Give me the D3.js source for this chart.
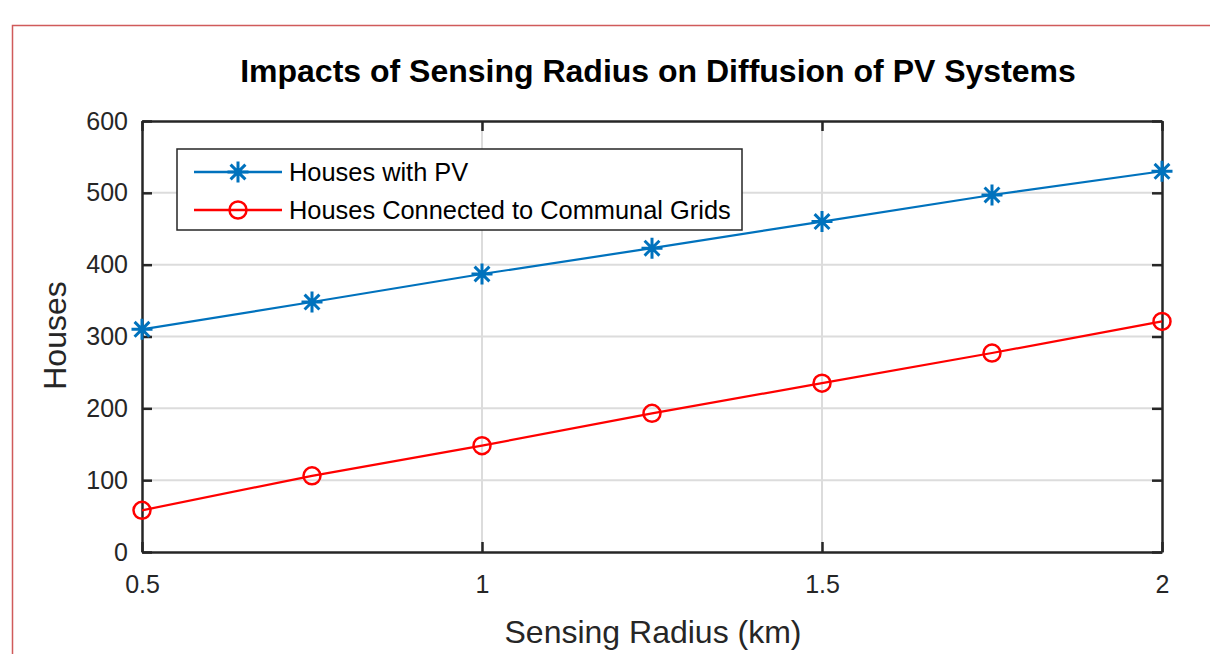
<!DOCTYPE html>
<html lang="en">
<head>
  <meta charset="UTF-8">
  <script src="https://d3js.org/d3.v7.min.js"></script>
  <title>Impacts of Sensing Radius on Diffusion of PV Systems</title>
  <style>
    body { margin: 0; background: #fff; }
    text { font-family: Arial, "Liberation Sans", sans-serif; }
  </style>
</head>
<body>
  <script>
    // data
    var radius = [0.5, 0.75, 1, 1.25, 1.5, 1.75, 2];
    var housesPV = [310, 348, 387, 423, 460, 497, 530];
    var housesGrid = [58, 106, 148, 193, 235, 277, 321];
    var xTicks = [0.5, 1, 1.5, 2];
    var yTicks = [0, 100, 200, 300, 400, 500, 600];

    var W = 1210, H = 654;
    var margin = {top: 121, right: 48, bottom: 102, left: 142},
      width = W - margin.left - margin.right,
      height = H - margin.top - margin.bottom;

    var svg = d3.select('body').append('svg')
      .attr('width', W)
      .attr('height', H);

    // outer red frame (runs off the page on right/bottom)
    svg.append('rect')
      .attr('x', 12.5).attr('y', 25.5)
      .attr('width', W).attr('height', H)
      .attr('fill', 'none')
      .attr('stroke', '#d05a5a')
      .attr('stroke-width', 1.5);

    var g = svg.append('g')
      .attr('transform', 'translate(' + margin.left + ',' + margin.top + ')');

    var x = d3.scaleLinear().domain([0.5, 2]).range([0, width]);
    var y = d3.scaleLinear().domain([0, 600]).range([height, 0]);

    // grid
    g.append('g').selectAll('line')
      .data(yTicks.slice(1, -1))
      .enter().append('line')
      .attr('x1', 0).attr('x2', width)
      .attr('y1', function(d) { return y(d); })
      .attr('y2', function(d) { return y(d); })
      .attr('stroke', '#dcdcdc').attr('stroke-width', 2);
    g.append('g').selectAll('line')
      .data(xTicks.slice(1, -1))
      .enter().append('line')
      .attr('y1', 0).attr('y2', height)
      .attr('x1', function(d) { return x(d); })
      .attr('x2', function(d) { return x(d); })
      .attr('stroke', '#dcdcdc').attr('stroke-width', 2);

    // axes (MATLAB style, ticks pointing in, box on)
    function styleAxis(sel) {
      sel.select('.domain').attr('stroke', '#262626').attr('stroke-width', 2.5);
      sel.selectAll('.tick line').attr('stroke', '#262626').attr('stroke-width', 2.5);
      sel.selectAll('.tick text').attr('fill', '#262626').style('font-size', '25px');
    }
    var fmt = function(d) { return String(d); };

    g.append('g')
      .attr('transform', 'translate(0,' + height + ')')
      .call(d3.axisBottom(x).tickValues(xTicks).tickFormat(fmt).tickSizeInner(-10).tickSizeOuter(0).tickPadding(23))
      .call(styleAxis);
    g.append('g')
      .call(d3.axisTop(x).tickValues(xTicks).tickFormat('').tickSizeInner(-10).tickSizeOuter(0))
      .call(styleAxis);
    g.append('g')
      .call(d3.axisLeft(y).tickValues(yTicks).tickFormat(fmt).tickSizeInner(-10).tickSizeOuter(0).tickPadding(14))
      .call(styleAxis);
    g.append('g')
      .attr('transform', 'translate(' + width + ',0)')
      .call(d3.axisRight(y).tickValues(yTicks).tickFormat('').tickSizeInner(-10).tickSizeOuter(0))
      .call(styleAxis);

    // series
    var series = [
      {name: 'Houses with PV', values: housesPV, color: '#0072bd', marker: 'star'},
      {name: 'Houses Connected to Communal Grids', values: housesGrid, color: '#ff0000', marker: 'circle'}
    ];

    var line = d3.line()
      .x(function(d, i) { return x(radius[i]); })
      .y(function(d) { return y(d); });

    function drawMarker(sel, type, color) {
      if (type === 'circle') {
        sel.append('circle').attr('r', 8.5)
          .attr('fill', 'none').attr('stroke', color).attr('stroke-width', 2.5);
      } else {
        var r = 10.5, p = [];
        for (var k = 0; k < 4; k++) {
          var a = k * Math.PI / 4;
          p.push('M' + (-r * Math.sin(a)) + ',' + (-r * Math.cos(a)) +
            'L' + (r * Math.sin(a)) + ',' + (r * Math.cos(a)));
        }
        sel.append('path').attr('d', p.join(''))
          .attr('stroke', color).attr('stroke-width', 3).attr('fill', 'none');
      }
    }

    series.forEach(function(s) {
      g.append('path')
        .datum(s.values)
        .attr('d', line)
        .attr('fill', 'none')
        .attr('stroke', s.color)
        .attr('stroke-width', 2.2);
      g.append('g').selectAll('g')
        .data(s.values)
        .enter().append('g')
        .attr('transform', function(d, i) { return 'translate(' + x(radius[i]) + ',' + y(d) + ')'; })
        .each(function() { drawMarker(d3.select(this), s.marker, s.color); });
    });

    // legend
    var leg = svg.append('g').attr('transform', 'translate(177,149)');
    leg.append('rect')
      .attr('width', 565).attr('height', 81)
      .attr('fill', '#fff')
      .attr('stroke', '#262626').attr('stroke-width', 1.5);
    series.forEach(function(s, i) {
      var row = leg.append('g').attr('transform', 'translate(0,' + (23 + i * 38) + ')');
      row.append('line')
        .attr('x1', 17).attr('x2', 105)
        .attr('stroke', s.color).attr('stroke-width', 2.5);
      var m = row.append('g').attr('transform', 'translate(61,0)');
      drawMarker(m, s.marker, s.color);
      row.append('text')
        .attr('x', 112).attr('y', 9)
        .style('font-size', '25.4px')
        .attr('fill', '#000')
        .text(s.name);
    });

    // title and labels
    svg.append('text')
      .attr('x', margin.left + width / 2 + 6).attr('y', 82)
      .attr('text-anchor', 'middle')
      .style('font-size', '32px').style('font-weight', 'bold')
      .text('Impacts of Sensing Radius on Diffusion of PV Systems');

    svg.append('text')
      .attr('x', margin.left + width / 2 + 1).attr('y', 643)
      .attr('text-anchor', 'middle')
      .style('font-size', '32px').attr('fill', '#262626')
      .text('Sensing Radius (km)');

    svg.append('text')
      .attr('transform', 'translate(66,' + (margin.top + height / 2 - 1) + ') rotate(-90)')
      .attr('text-anchor', 'middle')
      .style('font-size', '32px').attr('fill', '#262626')
      .text('Houses');
  </script>
</body>
</html>
